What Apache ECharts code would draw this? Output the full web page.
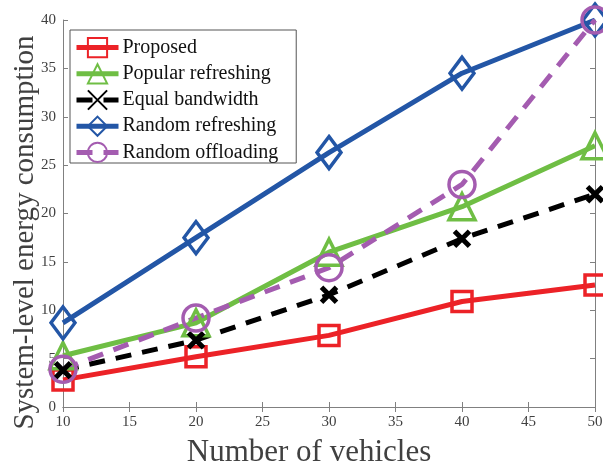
<!DOCTYPE html>
<html lang="en">
<head>
    <meta charset="UTF-8">
    <title>Energy consumption</title>
    <script src="https://cdn.jsdelivr.net/npm/echarts@6/dist/echarts.min.js"></script>
    <style>
        body{margin:0;background:#fff;}
        #chart{width:603px;height:470px;}
    </style>
</head>
<body>
<div id="chart"></div>
<script>
// data
var vehicles = [10, 20, 30, 40, 50];
var proposed = [2.8, 5.2, 7.4, 10.9, 12.6];
var popular = [5.3, 8.7, 16.0, 20.7, 27.0];
var equalBw = [3.8, 6.9, 11.6, 17.4, 22.0];
var randRefresh = [8.7, 17.5, 26.3, 34.5, 40.0];
var randOffload = [3.9, 9.2, 14.4, 23.0, 40.0];
var seriesNames = ['Proposed', 'Popular refreshing', 'Equal bandwidth', 'Random refreshing', 'Random offloading'];

var font = 'Liberation Serif, Times New Roman, serif';
var xMark = 'path://M0,0L10,10M10,0L0,10';

function pairs(ys){
    var out = [];
    for (var i = 0; i < vehicles.length; i++) out.push([vehicles[i], ys[i]]);
    return out;
}

function mkSeries(name, ys, color, symbol, size, dashed, bw){
    return {
        name: name,
        type: 'line',
        data: pairs(ys),
        symbol: symbol,
        symbolSize: size,
        showAllSymbol: true,
        lineStyle: {color: color, width: 5, type: dashed ? [16, 11] : 'solid'},
        itemStyle: {color: 'rgba(0,0,0,0)', borderColor: color, borderWidth: bw || 3.5},
        emphasis: {disabled: true},
        z: 2
    };
}

var chart = echarts.init(document.getElementById('chart'));
var axisLine = {show: true, lineStyle: {color: '#808080', width: 1}};
chart.setOption({
    animation: false,
    backgroundColor: '#fff',
    grid: {left: 63, right: 8, top: 20, bottom: 63, outerBoundsMode: 'none', containLabel: false},
    legend: {
        left: 70, top: 30,
        orient: 'vertical',
        itemWidth: 42, itemHeight: 24, itemGap: 5,
        padding: [7, 18, 0, 4],
        borderColor: '#555', borderWidth: 1,
        backgroundColor: '#fff',
        lineStyle: {width: 5},
        textStyle: {fontFamily: font, fontSize: 20, color: '#111', padding: [0, 0, 0, -1]},
        data: seriesNames
    },
    xAxis: [{
        type: 'value', min: 10, max: 50, interval: 5,
        name: 'Number of vehicles', nameLocation: 'middle', nameGap: 30,
        nameTextStyle: {fontFamily: font, fontSize: 31, color: '#404040', verticalAlign: 'top', padding: [0, 40, 0, 0]},
        axisLine: axisLine,
        axisTick: {inside: true, length: 5, lineStyle: {color: '#808080'}},
        axisLabel: {fontFamily: font, fontSize: 15, color: '#404040', margin: 8},
        splitLine: {show: false}
    }, {
        type: 'value', min: 10, max: 50, interval: 5, position: 'top',
        axisLine: axisLine,
        axisTick: {inside: true, length: 5, lineStyle: {color: '#808080'}},
        axisLabel: {show: false}, splitLine: {show: false}
    }],
    yAxis: [{
        type: 'value', min: 0, max: 40, interval: 5,
        name: 'System-level energy consumption', nameLocation: 'middle', nameGap: 23,
        nameMoveOverlap: false,
        nameTextStyle: {fontFamily: font, fontSize: 29, color: '#404040', padding: [0, 38, 0, 0]},
        axisLine: axisLine,
        axisTick: {inside: true, length: 5, lineStyle: {color: '#808080'}},
        axisLabel: {fontFamily: font, fontSize: 15, color: '#404040', margin: 7},
        splitLine: {show: false}
    }, {
        type: 'value', min: 0, max: 40, interval: 5, position: 'right',
        axisLine: axisLine,
        axisTick: {inside: true, length: 5, lineStyle: {color: '#808080'}},
        axisLabel: {show: false}, splitLine: {show: false}
    }],
    series: [
        mkSeries(seriesNames[0], proposed, '#ec2227', 'rect', 20, false),
        mkSeries(seriesNames[1], popular, '#6fbe44', 'triangle', 26, false),
        mkSeries(seriesNames[2], equalBw, '#000000', xMark, 15, true, 5),
        mkSeries(seriesNames[3], randRefresh, '#2356a6', 'diamond', [24, 32], false),
        mkSeries(seriesNames[4], randOffload, '#a45cb0', 'circle', 26, true)
    ]
});
</script>
</body>
</html>
